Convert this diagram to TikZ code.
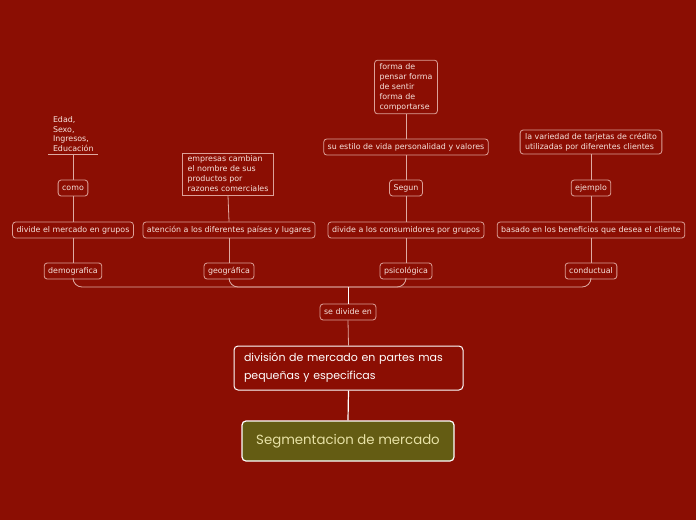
\documentclass[tikz,border=0pt]{standalone}
\usepackage{fontspec}
\setmainfont{DejaVu Sans}
\newfontfamily\bigfont{Poppins}
\definecolor{bgred}{RGB}{139,14,3}
\definecolor{bordc}{RGB}{220,160,152}
\definecolor{txtc}{RGB}{246,226,220}
\definecolor{olive}{RGB}{100,92,19}
\definecolor{rootc}{RGB}{232,226,166}
\definecolor{linec}{RGB}{222,170,162}
\begin{document}
\begin{tikzpicture}[x=1pt,y=-1pt,
  smallbox/.style={draw=bordc, line width=0.8pt, rounded corners=3pt, text=txtc,
    font=\fontsize{7.9}{10}\selectfont, inner xsep=4pt, inner ysep=2pt, minimum height=16pt},
  multibox/.style={smallbox, align=left, inner xsep=5pt, inner ysep=3pt},
  conn/.style={draw=linec, line width=0.8pt}
]
\useasboundingbox[fill=bgred] (0,0) rectangle (696,520);

% root
\node[draw=white, line width=1.2pt, fill=olive, rounded corners=4pt, text=rootc,
  minimum width=212pt, minimum height=40pt, font=\bigfont\fontsize{13.3}{16}\selectfont]
  (root) at (348,441) {Segmentacion de mercado};

\node[draw=white, line width=1pt, rounded corners=4pt, text=white, align=left,
  minimum width=229pt, minimum height=44pt, inner xsep=10pt, text width=209pt,
  font=\bigfont\fontsize{11}{18}\selectfont]
  (div) at (348.5,368) {división de mercado en partes mas\\pequeñas y especificas};

\node[smallbox] (se) at (348,312) {se divide en};

% level 1
\node[smallbox] (demo) at (73,271) {demografica};
\node[smallbox] (geo) at (229,271) {geográfica};
\node[smallbox] (psi) at (406,271) {psicológica};
\node[smallbox] (con) at (591,271) {conductual};

% level 2
\node[smallbox] (d2) at (73,230) {divide el mercado en grupos};
\node[smallbox] (g2) at (229,230) {atención a los diferentes países y lugares};
\node[smallbox] (p2) at (406,230) {divide a los consumidores por grupos};
\node[smallbox] (c2) at (591,230) {basado en los beneficios que desea el cliente};

% level 3
\node[smallbox] (d3) at (73,188) {como};
\node[multibox, rounded corners=0pt] (g3) at (228,174) {empresas cambian\\el nombre de sus\\productos por\\razones comerciales};
\node[smallbox] (p3) at (406,188) {Segun};
\node[smallbox] (c3) at (591,188) {ejemplo};

% level 4
\node[text=txtc, align=left, font=\fontsize{7.9}{9.7}\selectfont, inner xsep=5pt, inner ysep=3pt,
  minimum width=50pt, text width=40pt] (d4) at (73,134) {Edad,\\Sexo,\\Ingresos,\\Educación};
\draw[conn] (d4.south west) -- (d4.south east);
\node[smallbox] (p4) at (406,147) {su estilo de vida personalidad y valores};
\node[multibox] (c4) at (591,142) {la variedad de tarjetas de crédito\\utilizadas por diferentes clientes};

% level 5
\node[multibox] (p5) at (406,87) {forma de\\pensar forma\\de sentir\\forma de\\comportarse};

% connectors
\coordinate (bus) at (348,287);
\draw[conn, rounded corners=9pt] (demo.south) |- (bus);
\draw[conn, rounded corners=9pt] (geo.south) |- (bus);
\draw[conn, rounded corners=9pt] (psi.south) |- (bus);
\draw[conn, rounded corners=9pt] (con.south) |- (bus);
\draw[draw=white, line width=0.9pt] (bus) -- (se.north);
\draw[conn] (se.south) -- (div.north);
\draw[draw=white, line width=1.2pt] (div.south) -- (root.north);

\draw[conn] (demo.north) -- (d2.south);
\draw[conn] (geo.north) -- (g2.south);
\draw[conn] (psi.north) -- (p2.south);
\draw[conn] (con.north) -- (c2.south);

\draw[conn] (d2.north) -- (d3.south);
\draw[conn] (g2.north) -- (g3.south);
\draw[conn] (p2.north) -- (p3.south);
\draw[conn] (c2.north) -- (c3.south);

\draw[conn] (d3.north) -- (d4.south);
\draw[conn] (p3.north) -- (p4.south);
\draw[conn] (c3.north) -- (c4.south);
\draw[conn] (p4.north) -- (p5.south);
\end{tikzpicture}
\end{document}
